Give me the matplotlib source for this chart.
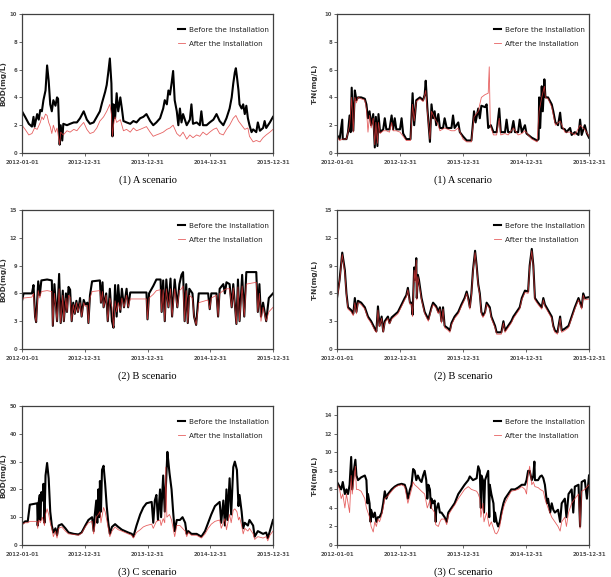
import numpy as np
import pandas as pd
import matplotlib
matplotlib.use("Agg")
import matplotlib.pyplot as plt

W, H = 611, 577
start = pd.Timestamp("2012-01-01")
end = pd.Timestamp("2015-12-31")
tick_dates = ["2012-01-01", "2012-12-31", "2013-12-31", "2014-12-31", "2015-12-31"]
legend_labels = ["Before the Installation", "After the Installation"]

# (months since 2012-01-01, value)
bod_a_before = [(0, 3.0), (0.6, 2.6), (1.3, 2.1), (1.9, 1.9), (2.2, 2.6), (2.4, 1.9), (2.9, 2.8), (3.2, 2.4),
                (3.5, 3.1), (3.8, 3.0), (4.1, 3.8), (4.5, 4.5), (4.8, 6.3), (5.1, 5.2), (5.4, 3.5), (5.7, 3.0),
                (6.0, 3.8), (6.4, 3.4), (6.7, 4.0), (6.9, 3.9), (7.2, 0.6), (7.4, 2.0), (7.7, 0.9), (7.9, 2.1),
                (8.6, 2.0), (9.2, 2.1), (9.9, 2.2), (10.5, 2.2), (11.1, 2.5), (11.8, 3.0), (12.4, 2.4), (13.0, 2.1),
                (13.7, 2.2), (14.3, 2.6), (14.9, 3.0), (15.3, 3.6), (15.6, 4.0), (15.9, 4.4), (16.2, 4.9), (16.5, 5.8),
                (16.8, 6.8), (17.1, 5.0), (17.3, 1.2), (17.5, 3.5), (17.8, 2.5), (18.1, 4.3), (18.4, 3.0), (18.8, 4.0),
                (19.1, 3.2), (19.4, 2.3), (20.0, 2.2), (20.7, 2.1), (21.3, 2.3), (21.9, 2.2), (22.6, 2.5), (23.2, 2.6),
                (23.8, 2.8), (24.5, 2.3), (25.1, 2.0), (25.7, 2.2), (26.4, 2.5), (27.0, 3.2), (27.3, 3.8), (27.7, 3.5),
                (28.0, 4.5), (28.3, 4.2), (28.6, 5.0), (28.9, 5.9), (29.2, 3.8), (29.6, 3.0), (29.9, 2.0), (30.2, 3.2),
                (30.5, 2.2), (30.8, 2.8), (31.5, 2.0), (32.1, 2.4), (32.4, 3.5), (32.7, 2.1), (33.4, 2.2), (34.0, 2.0),
                (34.3, 3.0), (34.6, 2.0), (35.3, 2.0), (35.9, 2.2), (36.6, 2.4), (37.2, 2.8), (37.8, 2.3), (38.5, 2.0),
                (39.1, 2.5), (39.7, 3.2), (40.1, 4.0), (40.4, 5.0), (40.7, 5.8), (40.9, 6.1), (41.1, 5.5), (41.4, 4.5),
                (41.6, 3.5), (42.0, 3.2), (42.3, 3.5), (42.6, 2.8), (42.9, 3.4), (43.2, 2.5), (43.5, 2.0), (43.9, 1.5),
                (44.2, 1.7), (44.8, 1.5), (45.1, 2.2), (45.5, 1.6), (46.1, 1.8), (46.4, 2.3), (46.7, 1.8), (47.4, 2.2),
                (48.0, 2.6)]
bod_a_after = [(0, 2.0), (0.6, 1.7), (1.3, 1.3), (1.9, 1.4), (2.4, 1.8), (2.9, 1.7), (3.5, 2.2), (3.8, 2.6),
               (4.1, 2.4), (4.5, 2.8), (4.8, 2.7), (5.1, 2.2), (5.4, 1.9), (5.7, 1.4), (6.0, 2.0), (6.4, 1.5),
               (6.7, 1.8), (7.2, 0.6), (7.4, 1.5), (7.9, 1.3), (8.6, 1.6), (9.2, 1.5), (9.9, 1.7), (10.5, 1.6),
               (11.1, 1.9), (11.8, 2.2), (12.4, 1.7), (13.0, 1.4), (13.7, 1.5), (14.3, 1.8), (14.9, 2.3), (15.6, 2.6),
               (16.2, 3.0), (16.8, 3.5), (17.1, 2.8), (17.3, 1.2), (17.5, 2.0), (17.8, 2.6), (18.1, 2.2), (18.8, 2.4),
               (19.4, 1.6), (20.0, 1.7), (20.7, 1.5), (21.3, 1.8), (21.9, 1.6), (22.6, 1.7), (23.2, 1.8), (23.8, 1.9),
               (24.5, 1.5), (25.1, 1.2), (25.7, 1.3), (26.4, 1.4), (27.0, 1.5), (27.7, 1.7), (28.3, 1.8), (28.9, 2.0),
               (29.6, 1.4), (30.2, 1.2), (30.8, 1.5), (31.5, 1.0), (32.1, 1.3), (32.7, 1.1), (33.4, 1.3), (34.0, 1.2),
               (34.6, 1.5), (35.3, 1.3), (35.9, 1.5), (36.6, 1.7), (37.2, 1.8), (37.8, 1.4), (38.5, 1.3), (39.1, 1.7),
               (39.7, 2.0), (40.4, 2.5), (40.9, 2.7), (41.4, 2.3), (42.0, 2.0), (42.6, 1.7), (43.2, 1.8), (43.5, 1.2),
               (44.2, 0.8), (44.8, 0.9), (45.5, 0.8), (46.1, 1.1), (46.7, 1.3), (47.4, 1.5), (48.0, 1.7)]

tn_a_before = [(0, 1.3), (0.5, 1.0), (1.0, 2.4), (1.1, 1.0), (1.8, 1.0), (2.1, 1.5), (2.4, 2.7), (2.6, 1.5),
               (2.8, 4.7), (3.1, 1.6), (3.4, 4.5), (3.7, 3.8), (4.0, 4.0), (4.6, 4.0), (5.3, 3.9), (5.6, 3.5),
               (5.9, 2.5), (6.2, 3.0), (6.5, 2.0), (6.9, 2.8), (7.2, 0.4), (7.4, 2.6), (7.7, 0.5), (7.9, 2.8),
               (8.2, 1.5), (8.8, 1.7), (9.1, 2.5), (9.4, 1.7), (10.0, 1.7), (10.4, 2.7), (10.7, 1.7), (11.0, 2.5),
               (11.3, 1.7), (12.0, 1.7), (12.3, 2.5), (12.6, 1.4), (13.2, 1.0), (14.0, 1.0), (14.4, 4.3), (14.7, 2.0),
               (15.1, 3.8), (15.8, 4.0), (16.4, 3.8), (16.7, 4.2), (16.9, 5.2), (17.2, 3.3), (17.7, 0.8), (18.0, 3.5),
               (18.3, 2.5), (18.6, 3.0), (18.9, 2.0), (19.3, 2.8), (19.6, 1.8), (20.2, 1.8), (20.5, 2.5), (20.9, 1.8),
               (21.8, 1.8), (22.1, 2.7), (22.4, 1.8), (23.1, 2.2), (23.4, 1.5), (24.0, 1.2), (24.7, 0.9), (25.6, 0.9),
               (26.1, 3.0), (26.4, 2.2), (26.9, 3.2), (27.2, 2.5), (27.5, 3.4), (28.2, 3.3), (28.5, 3.5), (28.8, 1.8),
               (29.3, 2.0), (29.8, 1.5), (30.4, 1.5), (30.9, 3.2), (31.2, 1.5), (32.0, 1.5), (32.3, 2.4), (32.6, 1.5),
               (33.2, 1.5), (33.6, 2.3), (33.9, 1.5), (34.5, 1.5), (34.8, 2.4), (35.2, 1.5), (35.8, 2.0), (36.1, 1.4),
               (37.1, 1.1), (38.1, 0.9), (38.4, 1.0), (38.5, 4.0), (38.7, 1.8), (39.0, 4.8), (39.2, 3.0), (39.5, 5.3),
               (39.7, 4.0), (40.2, 4.0), (40.9, 3.5), (41.2, 3.0), (41.6, 2.2), (42.1, 2.0), (42.5, 2.9), (42.8, 1.8),
               (43.4, 1.7), (43.7, 1.5), (44.4, 1.8), (44.7, 1.3), (45.3, 1.5), (46.0, 1.3), (46.3, 2.4), (46.6, 1.3),
               (47.2, 2.0), (47.6, 1.4), (48.0, 1.1)]
tn_a_after = [(0, 1.2), (0.5, 0.9), (1.1, 1.0), (1.8, 1.0), (2.4, 2.0), (2.8, 4.0), (3.1, 1.5), (3.4, 4.0),
              (3.7, 3.6), (4.0, 4.0), (4.6, 3.9), (5.3, 3.8), (5.6, 3.2), (5.9, 1.5), (6.2, 2.7), (6.5, 1.8),
              (6.9, 2.5), (7.2, 0.6), (7.4, 2.2), (7.7, 0.7), (7.9, 2.2), (8.2, 1.4), (8.8, 1.6), (9.4, 1.6),
              (10.0, 1.5), (10.4, 2.2), (10.7, 1.6), (11.3, 1.6), (12.0, 1.5), (12.6, 1.2), (13.2, 0.9), (14.0, 0.9),
              (14.4, 3.5), (14.7, 2.3), (15.1, 3.7), (15.8, 3.9), (16.4, 3.7), (16.9, 4.5), (17.2, 3.0), (17.7, 1.0),
              (18.0, 3.0), (18.6, 2.5), (19.3, 2.0), (19.6, 1.6), (20.5, 1.8), (21.8, 1.6), (22.4, 1.6), (23.1, 1.8),
              (24.0, 1.0), (24.7, 0.8), (25.6, 0.8), (26.1, 2.6), (26.9, 3.0), (27.5, 4.0), (28.2, 4.2), (28.8, 4.3),
              (29.0, 6.2), (29.2, 2.0), (29.8, 1.3), (30.4, 1.3), (30.9, 2.5), (31.2, 1.3), (32.0, 1.4), (32.6, 1.3),
              (33.6, 1.8), (34.5, 1.3), (35.2, 1.4), (35.8, 1.6), (37.1, 1.0), (38.1, 0.8), (38.5, 3.0), (39.0, 4.0),
              (39.5, 4.8), (39.7, 4.0), (40.2, 3.9), (40.9, 3.3), (41.6, 2.0), (42.5, 2.3), (43.4, 1.5), (44.4, 1.5),
              (45.3, 1.3), (46.3, 2.0), (47.2, 1.7), (48.0, 1.2)]

bod_b_before = [(0, 5.2), (0.3, 6.0), (1.9, 6.0), (2.2, 6.9), (2.5, 3.5), (2.7, 2.9), (3.1, 7.3), (3.4, 5.8),
                (3.7, 7.4), (4.8, 7.5), (5.7, 7.4), (5.9, 2.5), (6.2, 7.0), (6.7, 3.0), (7.1, 8.1), (7.4, 2.8),
                (7.8, 6.3), (8.0, 3.0), (8.4, 6.0), (8.6, 4.0), (8.9, 6.7), (9.2, 6.4), (9.5, 3.0), (9.8, 5.0),
                (10.1, 3.8), (10.4, 5.2), (10.7, 4.0), (11.1, 5.5), (11.4, 3.5), (11.8, 5.3), (12.1, 4.8), (12.5, 5.0),
                (12.7, 2.8), (13.0, 5.8), (13.4, 7.3), (14.9, 7.4), (15.1, 5.0), (15.4, 7.2), (15.6, 4.5), (16.1, 6.0),
                (16.4, 3.0), (16.8, 6.5), (17.2, 3.0), (17.5, 2.3), (17.8, 6.9), (18.1, 3.5), (18.4, 6.9), (18.8, 4.0),
                (19.1, 6.5), (19.5, 4.5), (20.0, 6.5), (20.3, 4.5), (20.7, 6.1), (23.8, 6.1), (24.0, 3.2), (24.3, 6.0),
                (25.1, 6.8), (25.7, 7.5), (26.5, 7.5), (26.7, 4.0), (27.0, 7.4), (27.3, 3.0), (27.6, 7.5), (28.0, 4.5),
                (28.4, 7.6), (28.7, 3.5), (29.2, 7.5), (29.7, 4.5), (30.1, 7.0), (30.5, 8.0), (30.8, 8.3), (31.1, 3.0),
                (31.4, 7.0), (31.7, 2.8), (32.0, 6.5), (32.6, 6.0), (32.9, 3.5), (33.3, 2.6), (33.8, 6.0), (35.6, 6.0),
                (35.9, 4.3), (36.2, 6.0), (37.2, 6.0), (37.5, 3.5), (37.8, 6.5), (38.5, 7.0), (38.8, 6.0), (39.1, 7.2),
                (39.7, 7.0), (40.1, 4.5), (40.4, 7.0), (41.0, 2.7), (41.3, 7.5), (41.6, 3.0), (42.1, 8.0), (42.5, 3.5),
                (42.9, 8.3), (44.8, 8.3), (45.1, 4.0), (45.4, 7.0), (45.7, 3.5), (46.1, 5.0), (46.7, 3.0), (47.2, 5.5),
                (48.0, 6.0)]
bod_b_after = [(0, 5.3), (0.3, 5.5), (1.9, 5.6), (2.2, 6.0), (2.5, 3.5), (2.7, 2.9), (3.1, 6.3), (3.4, 5.5),
               (3.7, 6.2), (4.8, 6.3), (5.7, 6.2), (5.9, 2.5), (6.2, 6.0), (6.7, 3.0), (7.1, 6.5), (7.4, 2.8),
               (7.8, 5.8), (8.0, 3.0), (8.4, 5.5), (8.6, 4.0), (8.9, 5.8), (9.2, 5.6), (9.5, 3.0), (9.8, 4.8),
               (10.1, 3.8), (10.4, 5.0), (10.7, 4.0), (11.1, 5.0), (11.4, 3.5), (11.8, 5.0), (12.1, 4.6), (12.5, 4.7),
               (12.7, 2.8), (13.0, 5.5), (13.4, 6.2), (14.9, 6.3), (15.1, 5.0), (15.4, 6.2), (15.6, 4.5), (16.1, 5.8),
               (16.4, 3.0), (16.8, 5.5), (17.2, 4.5), (17.5, 2.3), (17.8, 5.2), (18.1, 4.0), (18.4, 5.0), (18.8, 4.2),
               (19.1, 5.5), (19.5, 4.5), (20.0, 5.8), (20.3, 4.5), (20.7, 5.4), (23.8, 5.4), (24.0, 3.2), (24.3, 5.5),
               (25.1, 5.9), (25.7, 6.3), (26.5, 6.4), (26.7, 4.0), (27.0, 6.4), (27.3, 3.0), (27.6, 6.5), (28.0, 4.5),
               (28.4, 6.5), (28.7, 3.5), (29.2, 6.5), (29.7, 4.5), (30.1, 6.3), (30.5, 6.5), (30.8, 6.8), (31.1, 3.0),
               (31.4, 6.3), (31.7, 2.8), (32.0, 5.8), (32.6, 5.5), (32.9, 3.5), (33.3, 2.6), (33.8, 5.0), (35.6, 5.3),
               (35.9, 4.3), (36.2, 5.5), (37.2, 5.8), (37.5, 3.5), (37.8, 6.0), (38.5, 6.3), (39.1, 6.5), (39.7, 6.5),
               (40.1, 4.5), (40.4, 6.6), (41.0, 2.7), (41.3, 6.7), (41.6, 3.0), (42.1, 6.8), (42.5, 3.5), (42.9, 7.0),
               (44.8, 7.2), (45.1, 4.0), (45.4, 6.0), (45.7, 3.0), (46.1, 4.5), (46.7, 3.0), (47.2, 4.0), (48.0, 4.5)]

tn_b_before = [(0, 5.5), (0.5, 7.5), (1.0, 10.4), (1.5, 8.5), (1.8, 6.0), (2.1, 4.5), (2.7, 4.2), (3.1, 3.8),
               (3.4, 5.5), (3.7, 4.0), (4.0, 5.2), (4.6, 5.0), (5.3, 4.5), (5.9, 3.5), (6.5, 3.0), (7.2, 2.2),
               (7.5, 1.9), (7.8, 4.6), (8.1, 2.5), (8.5, 3.5), (8.8, 1.9), (9.1, 3.0), (9.7, 3.5), (10.0, 2.8),
               (10.4, 3.4), (11.0, 3.7), (11.6, 4.0), (12.3, 4.8), (12.9, 5.5), (13.2, 5.8), (13.5, 6.6), (13.9, 5.0),
               (14.2, 5.0), (14.4, 3.7), (14.7, 8.8), (14.9, 7.5), (15.1, 9.8), (15.2, 5.5), (15.4, 8.0), (15.6, 7.5),
               (16.1, 5.5), (16.7, 4.0), (17.4, 3.2), (18.0, 4.5), (18.3, 5.0), (18.9, 4.6), (19.3, 4.0), (19.6, 4.5),
               (19.9, 3.0), (20.2, 4.5), (20.5, 2.5), (21.2, 2.2), (21.5, 2.0), (21.8, 2.8), (22.4, 3.5), (23.1, 4.0),
               (23.7, 4.8), (24.3, 5.5), (24.7, 6.2), (25.0, 5.5), (25.3, 4.5), (25.6, 6.0), (25.9, 8.5), (26.3, 10.6),
               (26.6, 9.0), (26.9, 7.0), (27.2, 6.0), (27.5, 4.0), (27.8, 3.6), (28.2, 4.0), (28.5, 5.0), (29.1, 4.5),
               (29.4, 3.5), (30.1, 2.5), (30.4, 1.8), (31.3, 1.8), (31.7, 3.0), (32.0, 2.0), (32.6, 2.5), (33.2, 3.0),
               (33.6, 3.5), (34.2, 4.0), (34.8, 4.5), (35.2, 5.5), (35.8, 6.3), (36.4, 6.2), (36.7, 9.0), (37.1, 10.8),
               (37.4, 9.0), (37.7, 5.5), (38.3, 5.0), (39.0, 4.5), (39.3, 5.5), (39.6, 4.8), (40.2, 4.2), (40.9, 3.5),
               (41.2, 2.5), (41.5, 2.0), (42.0, 1.8), (42.5, 3.5), (42.8, 2.0), (43.4, 2.2), (44.1, 2.5), (44.7, 3.5),
               (45.3, 4.5), (46.0, 5.5), (46.6, 4.5), (46.9, 6.0), (47.2, 5.5), (48.0, 5.6)]
tn_b_after = [(0, 5.3), (0.5, 7.3), (1.0, 10.2), (1.5, 8.2), (1.8, 5.8), (2.1, 4.3), (2.7, 4.0), (3.1, 3.6),
              (3.4, 5.0), (3.7, 3.8), (4.0, 5.0), (4.6, 4.8), (5.3, 4.3), (5.9, 3.3), (6.5, 2.8), (7.2, 2.0),
              (7.5, 1.8), (7.8, 4.2), (8.1, 2.4), (8.5, 3.3), (8.8, 1.8), (9.1, 2.8), (9.7, 3.3), (10.0, 2.7),
              (10.4, 3.2), (11.0, 3.5), (11.6, 3.8), (12.3, 4.6), (12.9, 5.3), (13.2, 5.6), (13.5, 6.4), (13.9, 4.8),
              (14.2, 4.8), (14.4, 3.5), (14.7, 8.5), (14.9, 7.2), (15.1, 9.6), (15.2, 5.3), (15.4, 7.8), (15.6, 7.2),
              (16.1, 5.3), (16.7, 3.8), (17.4, 3.0), (18.0, 4.3), (18.3, 4.8), (18.9, 4.4), (19.3, 3.8), (19.6, 4.3),
              (19.9, 2.8), (20.2, 4.3), (20.5, 2.3), (21.2, 2.0), (21.5, 1.8), (21.8, 2.6), (22.4, 3.3), (23.1, 3.8),
              (23.7, 4.6), (24.3, 5.3), (24.7, 6.0), (25.0, 5.3), (25.3, 4.3), (25.6, 5.8), (25.9, 8.3), (26.3, 10.4),
              (26.6, 8.8), (26.9, 6.8), (27.2, 5.8), (27.5, 3.8), (27.8, 3.4), (28.2, 3.8), (28.5, 4.8), (29.1, 4.3),
              (29.4, 3.3), (30.1, 2.3), (30.4, 1.6), (31.3, 1.6), (31.7, 2.8), (32.0, 1.8), (32.6, 2.3), (33.2, 2.8),
              (33.6, 3.3), (34.2, 3.8), (34.8, 4.3), (35.2, 5.3), (35.8, 6.1), (36.4, 6.0), (36.7, 8.8), (37.1, 10.6),
              (37.4, 8.8), (37.7, 5.3), (38.3, 4.8), (39.0, 4.3), (39.3, 5.3), (39.6, 4.6), (40.2, 4.0), (40.9, 3.3),
              (41.2, 2.3), (41.5, 1.8), (42.0, 1.6), (42.5, 3.3), (42.8, 1.8), (43.4, 2.0), (44.1, 2.3), (44.7, 3.3),
              (45.3, 4.3), (46.0, 5.3), (46.6, 4.3), (46.9, 5.8), (47.2, 5.3), (48.0, 5.4)]

bod_c_before = [(0, 7.5), (0.6, 8.5), (1.1, 8.5), (1.5, 14.5), (2.9, 15.0), (3.0, 7.0), (3.2, 15.5), (3.4, 18.0),
                (3.5, 9.0), (3.7, 19.0), (3.9, 16.0), (4.1, 22.0), (4.3, 8.0), (4.5, 25.0), (4.8, 29.5), (5.1, 24.0),
                (5.4, 12.0), (5.7, 7.0), (6.0, 4.5), (6.4, 6.0), (6.7, 3.5), (7.0, 7.0), (7.6, 7.5), (8.3, 6.0),
                (8.9, 4.5), (9.9, 4.0), (10.8, 3.8), (11.4, 4.5), (12.1, 7.0), (12.7, 9.0), (13.4, 10.0), (13.7, 5.0),
                (13.9, 10.5), (14.2, 16.0), (14.4, 8.0), (14.6, 20.0), (14.8, 10.0), (14.9, 23.0), (15.1, 12.0),
                (15.3, 27.0), (15.6, 28.5), (15.9, 22.0), (16.2, 14.0), (16.5, 8.0), (16.8, 4.0), (17.2, 6.5),
                (17.8, 7.5), (18.4, 6.5), (19.1, 5.5), (19.7, 5.0), (20.3, 4.5), (21.0, 4.0), (21.3, 3.0), (21.9, 7.0),
                (22.6, 11.0), (23.2, 13.5), (23.8, 15.0), (24.8, 15.5), (25.1, 8.0), (25.4, 16.0), (25.7, 18.0),
                (26.0, 9.0), (26.4, 20.0), (26.6, 10.0), (27.0, 25.0), (27.3, 12.0), (27.7, 29.0), (27.8, 33.5),
                (28.2, 26.0), (28.6, 20.0), (28.9, 12.0), (29.2, 5.0), (29.6, 9.0), (30.2, 9.0), (30.7, 10.0),
                (31.2, 8.0), (31.5, 4.0), (31.8, 5.0), (32.4, 4.0), (33.4, 4.0), (34.3, 3.0), (35.0, 5.0), (35.6, 8.0),
                (36.2, 11.0), (36.9, 14.0), (37.8, 15.5), (38.1, 8.0), (38.5, 16.0), (38.8, 7.0), (39.1, 20.0),
                (39.3, 9.0), (39.7, 24.0), (40.0, 11.0), (40.4, 28.0), (40.7, 30.0), (41.1, 27.0), (41.4, 14.0),
                (41.6, 18.0), (42.0, 12.0), (42.3, 6.0), (42.6, 8.0), (43.2, 7.0), (43.5, 9.0), (44.2, 7.0),
                (44.5, 3.0), (45.1, 5.0), (46.1, 4.0), (46.7, 4.5), (47.0, 2.5), (47.4, 5.0), (48.0, 9.0)]
bod_c_after = [(0, 7.5), (0.6, 8.0), (1.1, 8.0), (1.5, 8.5), (2.9, 8.5), (3.0, 6.0), (3.2, 9.0), (3.5, 8.0),
               (3.9, 10.0), (4.3, 7.0), (4.5, 11.0), (4.8, 13.0), (5.1, 11.0), (5.4, 8.0), (5.7, 6.0), (6.0, 3.0),
               (6.4, 5.0), (6.7, 2.5), (7.0, 6.0), (7.6, 6.5), (8.3, 5.0), (8.9, 4.0), (9.9, 3.8), (10.8, 3.5),
               (11.4, 4.2), (12.1, 6.5), (12.7, 8.0), (13.4, 8.5), (13.7, 4.0), (14.2, 10.0), (14.6, 11.0),
               (14.9, 12.0), (15.1, 8.0), (15.6, 13.5), (15.9, 12.0), (16.2, 9.0), (16.5, 6.0), (16.8, 3.0),
               (17.2, 5.0), (17.8, 6.5), (18.4, 5.5), (19.1, 5.0), (19.7, 4.5), (20.3, 4.0), (21.0, 3.5), (21.3, 2.5),
               (21.9, 4.5), (22.6, 5.5), (23.2, 6.5), (23.8, 7.0), (24.8, 7.5), (25.1, 6.0), (25.7, 8.5), (26.4, 9.0),
               (26.6, 7.0), (27.0, 9.5), (27.3, 8.0), (27.5, 28.0), (27.7, 10.0), (28.2, 11.0), (28.6, 9.0),
               (28.9, 6.0), (29.2, 3.0), (29.6, 7.0), (30.2, 7.0), (30.7, 6.0), (31.2, 5.0), (31.5, 3.0), (31.8, 4.5),
               (32.4, 3.5), (33.4, 3.5), (34.3, 2.5), (35.0, 4.0), (35.6, 6.0), (36.2, 7.5), (36.9, 8.5), (37.8, 9.0),
               (38.1, 6.0), (38.8, 9.5), (39.1, 5.5), (39.7, 11.0), (40.0, 8.0), (40.4, 12.5), (40.7, 13.0),
               (41.1, 12.0), (41.4, 9.0), (41.6, 10.0), (42.0, 7.0), (42.3, 4.0), (42.6, 6.0), (43.2, 5.0),
               (43.5, 6.0), (44.2, 4.0), (44.5, 2.0), (45.1, 3.0), (46.1, 2.5), (46.7, 3.0), (47.0, 1.5), (47.4, 3.5),
               (48.0, 5.0)]

tn_c_before = [(0, 6.8), (0.5, 6.3), (0.8, 6.0), (1.1, 6.8), (1.5, 5.5), (1.8, 6.0), (2.1, 5.5), (2.4, 6.5),
               (2.7, 9.5), (2.9, 6.0), (3.2, 8.0), (3.5, 9.2), (3.7, 7.5), (4.0, 7.0), (4.6, 7.3), (5.3, 7.5),
               (5.6, 7.0), (5.8, 4.5), (5.9, 5.5), (6.2, 4.5), (6.4, 2.5), (6.5, 3.8), (6.9, 3.0), (7.2, 3.5),
               (7.5, 2.5), (7.8, 3.0), (8.1, 3.0), (8.5, 3.5), (8.8, 4.5), (9.1, 5.8), (9.4, 5.0), (9.7, 5.5),
               (10.4, 6.0), (11.0, 6.3), (11.6, 6.5), (12.3, 6.6), (12.9, 6.5), (13.2, 6.0), (13.5, 5.0), (13.9, 6.0),
               (14.2, 6.5), (14.5, 8.2), (14.8, 8.0), (15.1, 7.0), (15.4, 7.5), (15.8, 7.0), (16.1, 6.8), (16.4, 7.5),
               (16.7, 8.0), (17.0, 7.0), (17.2, 5.0), (17.4, 6.5), (17.7, 6.0), (17.9, 4.0), (18.0, 5.0), (18.3, 4.5),
               (18.6, 4.8), (18.8, 2.5), (18.9, 3.8), (19.3, 4.5), (19.6, 3.5), (19.9, 3.5), (20.5, 3.0), (20.9, 2.5),
               (21.2, 3.5), (21.8, 4.0), (22.4, 4.5), (23.1, 5.5), (23.7, 6.0), (24.3, 6.5), (25.0, 7.0), (25.3, 7.4),
               (25.9, 7.0), (26.6, 7.2), (26.9, 8.5), (27.2, 8.0), (27.4, 4.0), (27.5, 7.5), (27.8, 7.0), (28.0, 3.5),
               (28.2, 7.0), (28.5, 7.5), (28.8, 8.0), (29.0, 3.0), (29.1, 6.5), (29.4, 5.5), (29.8, 4.5), (30.0, 2.5),
               (30.1, 3.5), (30.4, 2.5), (30.7, 2.0), (31.0, 2.5), (31.3, 3.5), (31.7, 4.5), (32.0, 5.0), (32.6, 5.5),
               (33.2, 6.0), (33.9, 6.0), (34.5, 6.2), (35.2, 6.5), (35.8, 6.5), (36.1, 7.0), (36.4, 8.0), (36.7, 8.0),
               (37.1, 7.0), (37.4, 7.5), (37.6, 9.0), (37.7, 7.0), (38.3, 7.0), (38.7, 7.4), (39.0, 7.5), (39.3, 7.2),
               (39.6, 6.5), (40.0, 4.5), (40.2, 5.0), (40.6, 3.5), (40.9, 4.5), (41.2, 3.8), (41.5, 3.5), (42.1, 3.8),
               (42.5, 2.5), (42.8, 4.5), (43.4, 5.0), (43.7, 3.0), (44.1, 5.5), (44.7, 6.0), (45.0, 3.5), (45.3, 6.3),
               (46.0, 6.5), (46.3, 2.0), (46.6, 6.8), (47.2, 7.0), (47.6, 5.0), (48.0, 7.5)]
tn_c_after = [(0, 6.7), (0.5, 6.0), (0.8, 5.0), (1.1, 5.5), (1.5, 4.0), (1.8, 5.5), (2.1, 4.5), (2.4, 3.5),
              (2.7, 7.5), (2.9, 5.5), (3.2, 7.0), (3.5, 8.5), (3.7, 6.0), (4.0, 6.0), (4.6, 5.8), (5.3, 5.0),
              (5.6, 4.0), (5.9, 3.5), (6.2, 3.0), (6.5, 2.0), (6.9, 1.4), (7.2, 2.5), (7.5, 2.0), (7.8, 2.8),
              (8.1, 2.5), (8.5, 3.2), (8.8, 4.0), (9.1, 5.0), (9.7, 5.3), (10.4, 5.8), (11.0, 6.2), (11.6, 6.4),
              (12.3, 6.5), (12.9, 6.3), (13.5, 4.5), (14.2, 6.0), (14.5, 6.8), (14.8, 6.5), (15.4, 6.2), (16.1, 5.8),
              (16.7, 5.5), (17.2, 4.0), (17.7, 4.8), (18.0, 4.0), (18.6, 3.5), (18.8, 2.2), (19.3, 2.0), (19.6, 2.5),
              (19.9, 2.8), (20.5, 2.8), (20.9, 2.2), (21.2, 3.2), (21.8, 3.8), (22.4, 4.3), (23.1, 5.0), (23.7, 5.5),
              (24.3, 6.0), (25.0, 6.3), (25.6, 6.0), (26.6, 5.8), (26.9, 5.5), (27.2, 5.0), (27.4, 3.0), (27.8, 4.5),
              (28.0, 2.5), (28.5, 3.5), (29.0, 2.0), (29.4, 2.5), (29.8, 1.8), (30.1, 1.3), (30.4, 1.2), (30.7, 1.5),
              (31.0, 2.0), (31.3, 3.0), (31.7, 4.0), (32.0, 4.5), (32.6, 5.2), (33.2, 5.8), (33.9, 5.9), (34.5, 6.0),
              (35.2, 6.3), (35.8, 6.0), (36.1, 5.5), (36.4, 7.5), (36.7, 8.5), (37.1, 6.5), (37.4, 6.8), (37.7, 6.3),
              (38.3, 6.2), (38.7, 6.0), (39.3, 5.8), (39.6, 5.0), (40.2, 4.0), (40.9, 3.0), (41.5, 2.5), (42.1, 2.0),
              (42.5, 1.5), (42.8, 2.5), (43.4, 3.0), (43.7, 2.0), (44.1, 3.5), (44.7, 4.5), (45.3, 5.0), (46.0, 5.5),
              (46.3, 1.8), (46.6, 5.8), (47.2, 6.0), (48.0, 6.5)]

panels = [
    # rect in pixels (left, top, right, bottom), before, after, ylabel, ymax, ystep, ytop, caption
    ((22, 14, 273, 153), bod_a_before, bod_a_after, "BOD(mg/L)", 10, 2, 10, "(1) A scenario"),
    ((337, 14, 589, 153), tn_a_before, tn_a_after, "T-N(mg/L)", 10, 2, 10, "(1) A scenario"),
    ((22, 210, 273, 349), bod_b_before, bod_b_after, "BOD(mg/L)", 15, 3, 15, "(2) B scenario"),
    ((337, 210, 589, 349), tn_b_before, tn_b_after, "T-N(mg/L)", 15, 3, 15, "(2) B scenario"),
    ((22, 406, 273, 545), bod_c_before, bod_c_after, "BOD(mg/L)", 50, 10, 50, "(3) C scenario"),
    ((337, 406, 589, 545), tn_c_before, tn_c_after, "T-N(mg/L)", 15, 2, 14, "(3) C scenario"),
]


def to_series(pairs):
    m = np.array([p[0] for p in pairs])
    v = np.array([p[1] for p in pairs])
    return start + pd.to_timedelta(m * 1460 / 48, unit="D"), v


fig = plt.figure(figsize=(W / 100, H / 100), dpi=100)
for (l, t, r, b), before, after, ylabel, ymax, ystep, ytop, caption in panels:
    ax = fig.add_axes([l / W, 1 - b / H, (r - l) / W, (b - t) / H])
    x, y = to_series(before)
    ax.plot(x, y, color="black", lw=1.5, label=legend_labels[0])
    x, y = to_series(after)
    ax.plot(x, y, color="#e03a3a", lw=0.6, alpha=0.8, label=legend_labels[1])
    ax.set_xlim(start, end)
    ax.set_ylim(0, ymax)
    ax.set_yticks(np.arange(0, ytop + 0.1, ystep))
    ax.set_xticks(pd.to_datetime(tick_dates))
    ax.set_xticklabels(tick_dates)
    ax.tick_params(labelsize=3.8, colors="#505050", length=2, width=0.6, pad=1.5)
    ax.tick_params(axis="x", pad=3)
    for lab in ax.get_xticklabels() + ax.get_yticklabels():
        lab.set_fontweight("bold")
    for s in ax.spines.values():
        s.set_color("#404040")
        s.set_linewidth(0.9)
    ax.set_ylabel(ylabel, fontsize=5.3, color="#333333", fontweight="bold")
    # label centre sits about 6 px from the figure edge on the left column
    ax.yaxis.set_label_coords((-16 if l < 100 else -19) / (r - l), 0.5)
    leg = ax.legend(loc="upper right", bbox_to_anchor=(0.995, 0.93), borderaxespad=0, frameon=False,
                    fontsize=5.2, handlelength=1.0, handletextpad=0.5, labelspacing=1.1)
    for txt in leg.get_texts():
        txt.set_color("#222222")
    fig.text((l + r) / 2 / W, 1 - (b + 27) / H, caption, ha="center", va="center",
             family="Liberation Serif", fontsize=7.5)

fig.savefig("out.png", dpi=100)
